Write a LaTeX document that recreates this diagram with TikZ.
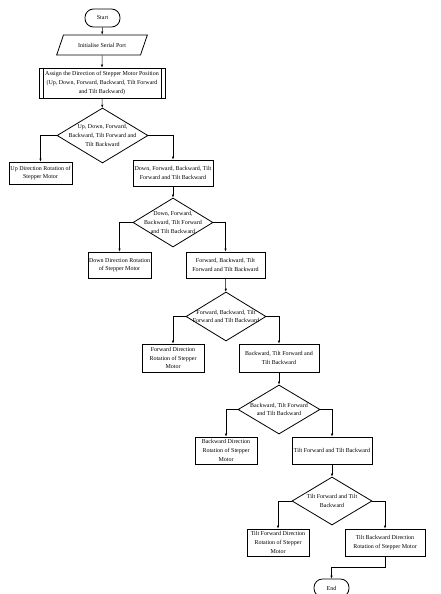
\documentclass[tikz,border=0pt]{standalone}
\usepackage{fontspec}
\setmainfont{Liberation Serif}
\usetikzlibrary{arrows.meta,shapes.geometric}

\begin{document}
\begin{tikzpicture}[x=1pt,y=-1pt,
    font=\fontsize{6}{8.6}\selectfont,
    box/.style={draw,line width=0.8pt,align=center,inner sep=1pt},
    term/.style={draw,line width=0.8pt,rounded corners=8.5pt,minimum width=35pt,minimum height=18pt},
    io/.style={draw,line width=0.8pt,trapezium,trapezium left angle=66,trapezium right angle=114,trapezium stretches=true,minimum width=91pt,minimum height=20pt},
    decision/.style={draw,line width=0.8pt,diamond,inner sep=0pt},
    dtext/.style={align=center,inner sep=0pt},
    arr/.style={-{Latex[length=3pt,width=2.4pt]},line width=0.5pt}]
    \useasboundingbox (0,0) rectangle (441,594);
    \node[term] (start) at (102.5,18) {Start};
    \node[io] (init) at (102,45) {Initialise Serial Port};
    \node[box,minimum width=126pt,minimum height=30pt,
      path picture={\draw ([xshift=4pt]path picture bounding box.north west) -- ([xshift=4pt]path picture bounding box.south west);
        \draw ([xshift=-4pt]path picture bounding box.north east) -- ([xshift=-4pt]path picture bounding box.south east);}]
      (assign) at (102,83) {Assign the Direction of Stepper Motor Position\\(Up, Down, Forward, Backward, Tilt Forward\\and Tilt Backward)};
    \node[decision,minimum width=91pt,minimum height=55pt,label={[dtext]center:{Up, Down, Forward,\\Backward, Tilt Forward and\\Tilt Backward}}] (d1) at (102.5,135.5) {};
    \node[box,minimum width=63pt,minimum height=22pt] (up) at (40.5,173) {Up Direction Rotation of\\Stepper Motor};
    \node[box,minimum width=80pt,minimum height=26pt] (r1) at (173,173) {Down, Forward, Backward, Tilt\\Forward and Tilt Backward};
    \node[decision,minimum width=80pt,minimum height=49pt,label={[dtext]center:{Down, Forward,\\Backward, Tilt Forward\\and Tilt Backward}}] (d2) at (173,222.5) {};
    \node[box,minimum width=63pt,minimum height=26pt] (down) at (119.5,265) {Down Direction Rotation\\of Stepper Motor};
    \node[box,minimum width=79pt,minimum height=26pt] (r2) at (225.5,265) {Forward, Backward, Tilt\\Forward and Tilt Backward};
    \node[decision,minimum width=80pt,minimum height=49pt,label={[dtext]center:{Forward, Backward, Tilt\\Forward and Tilt Backward}}] (d3) at (226,316.5) {};
    \node[box,minimum width=62pt,minimum height=28pt] (fwd) at (173,358) {Forward Direction\\Rotation of Stepper\\Motor};
    \node[box,minimum width=80pt,minimum height=28pt] (r3) at (279,358) {Backward, Tilt Forward and\\Tilt Backward};
    \node[decision,minimum width=82pt,minimum height=49pt,label={[dtext]center:{Backward, Tilt Forward\\and Tilt Backward}}] (d4) at (279,409.5) {};
    \node[box,minimum width=62pt,minimum height=27pt] (bwd) at (226,450.5) {Backward Direction\\Rotation of Stepper\\Motor};
    \node[box,minimum width=80pt,minimum height=27pt] (r4) at (332,450.5) {Tilt Forward and Tilt Backward};
    \node[decision,minimum width=80pt,minimum height=48pt,label={[dtext]center:{Tilt Forward and Tilt\\Backward}}] (d5) at (332,501) {};
    \node[box,minimum width=62pt,minimum height=27pt] (tf) at (278,542.5) {Tilt Forward Direction\\Rotation of Stepper\\Motor};
    \node[box,minimum width=80pt,minimum height=27pt] (tb) at (385,542.5) {Tilt Backward Direction\\Rotation of Stepper Motor};
    \node[term] (end) at (331.5,588) {End};
    \coordinate (join) at (385,567);

    \draw[arr] (start) -- (init);
    \draw[arr] (init) -- (assign);
    \draw[arr] (assign) -- (d1);
    \draw[arr] (d1.west) -| (up);
    \draw[arr] (d1.east) -| (r1);
    \draw[arr] (r1) -- (d2);
    \draw[arr] (d2.west) -| (down);
    \draw[arr] (d2.east) -| (r2);
    \draw[arr] (r2) -- (d3);
    \draw[arr] (d3.west) -| (fwd);
    \draw[arr] (d3.east) -| (r3);
    \draw[arr] (r3) -- (d4);
    \draw[arr] (d4.west) -| (bwd);
    \draw[arr] (d4.east) -| (r4);
    \draw[arr] (r4) -- (d5);
    \draw[arr] (d5.west) -| (tf);
    \draw[arr] (d5.east) -| (tb);
    \draw[arr] (tb) -- (join) -| (end);
\end{tikzpicture}
\end{document}
